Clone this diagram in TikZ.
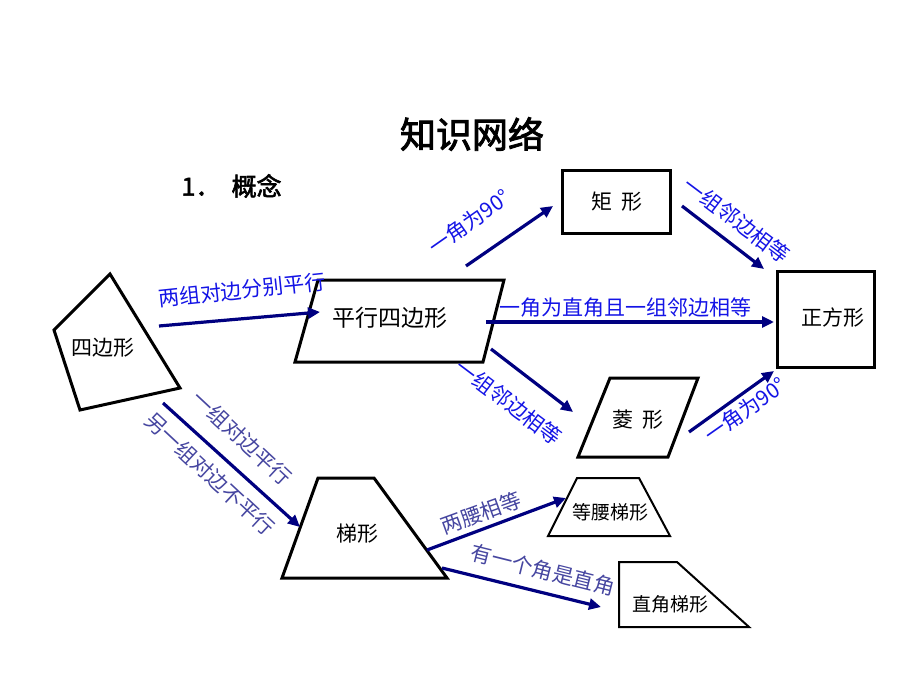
\documentclass[tikz,border=0pt]{standalone}
\usepackage{fontspec}
\setmainfont{Liberation Sans}
\newfontfamily\cjk{Noto Sans CJK SC}
\newfontfamily\cjkb[FakeBold=2.5]{Noto Sans CJK SC}
\usetikzlibrary{arrows.meta}
\definecolor{arr}{RGB}{0,0,128}
\definecolor{lblue}{RGB}{20,20,230}
\definecolor{slate}{RGB}{70,70,160}
\begin{document}
\begin{tikzpicture}[x=1pt,y=-1pt,
  shp/.style={draw=black,line width=3pt,line join=miter},
  txt/.style={font=\cjk\fontsize{21}{21}\selectfont,inner sep=0pt},
  ar/.style={draw=arr,line width=3.2pt,-{Triangle[length=12pt,width=11pt]}},
  lb/.style={font=\cjk\fontsize{21}{21}\selectfont,text=lblue,inner sep=0pt},
  ls/.style={font=\cjk\fontsize{21}{21}\selectfont,text=slate,inner sep=0pt}]
\useasboundingbox (0,0) rectangle (920,690);
\node[font=\cjkb\fontsize{36}{36}\selectfont] (title) at (472,134) {知识网络};
\node[font=\cjkb\fontsize{25}{25}\selectfont,anchor=west] (sub) at (178,186) {1．\ \ 概念};
% shapes
\draw[shp] (110,274) -- (54,330) -- (80,410) -- (180,388) -- cycle;
\node[txt] (quad) at (103,348) {四边形};
\draw[shp] (318,280) -- (504,280) -- (483,362) -- (295,362) -- cycle;
\node[txt,font=\cjk\fontsize{23}{23}\selectfont] (para) at (390,318) {平行四边形};
\draw[shp] (562,170) rectangle (670,233);
\node[txt] (rect) at (617,202) {矩\ \ 形};
\draw[shp] (777,271) rectangle (874,367);
\node[txt] (sq) at (833,318) {正方形};
\draw[shp] (610,378) -- (698,378) -- (668,457) -- (578,457) -- cycle;
\node[txt] (rh) at (638,420) {菱\ \ 形};
\draw[shp] (318,478) -- (374,478) -- (447,578) -- (282,578) -- cycle;
\node[txt] (trap) at (357,534) {梯形};
\draw[line width=2pt] (577,478) -- (639,478) -- (670,536) -- (548,536) -- cycle;
\node[txt,font=\cjk\fontsize{19}{19}\selectfont] (iso) at (610,512) {等腰梯形};
\draw[line width=2pt] (619,562) -- (677,562) -- (749,627) -- (619,627) -- cycle;
\node[txt,font=\cjk\fontsize{19}{19}\selectfont] (rt) at (670,604) {直角梯形};
% arrow endpoints
\coordinate (a1) at (159,326); \coordinate (b1) at (320,312);
\coordinate (a2) at (466,266); \coordinate (b2) at (553,206);
\coordinate (a3) at (682,206); \coordinate (b3) at (764,269);
\coordinate (a4) at (486,322); \coordinate (b4) at (774,322);
\coordinate (a5) at (491,349); \coordinate (b5) at (573,412);
\coordinate (a6) at (689,432); \coordinate (b6) at (774,371);
\coordinate (a7) at (163,403); \coordinate (b7) at (300,527);
\coordinate (a8) at (427,550); \coordinate (b8) at (566,498);
\coordinate (a9) at (442,568); \coordinate (b9) at (601,607);
\draw[ar] (a1) -- (b1);
\draw[ar] (a2) -- (b2);
\draw[ar] (a3) -- (b3);
\draw[ar] (a4) -- (b4);
\draw[ar] (a5) -- (b5);
\draw[ar] (a6) -- (b6);
\draw[ar] (a7) -- (b7);
\draw[ar] (a8) -- (b8);
\draw[ar] (a9) -- (b9);
% labels
\node[lb,rotate=6] (l1) at (242,290) {两组对边分别平行};
\node[lb,rotate=35] (l2) at (469,222) {一角为90°};
\node[lb,rotate=-37] (l3) at (737,220) {一组邻边相等};
\node[lb] (l4) at (625,308) {一角为直角且一组邻边相等};
\node[lb,rotate=-37] (l5) at (509,402) {一组邻边相等};
\node[lb,rotate=35] (l6) at (745,410) {一角为90°};
\node[ls,rotate=-43] (l7) at (242,438) {一组对边平行};
\node[ls,rotate=-43] (l8) at (210,474) {另一组对边不平行};
\node[ls,rotate=20] (l9) at (481,513) {两腰相等};
\node[ls,rotate=-14] (l10) at (543,570) {有一个角是直角};
\end{tikzpicture}
\end{document}
